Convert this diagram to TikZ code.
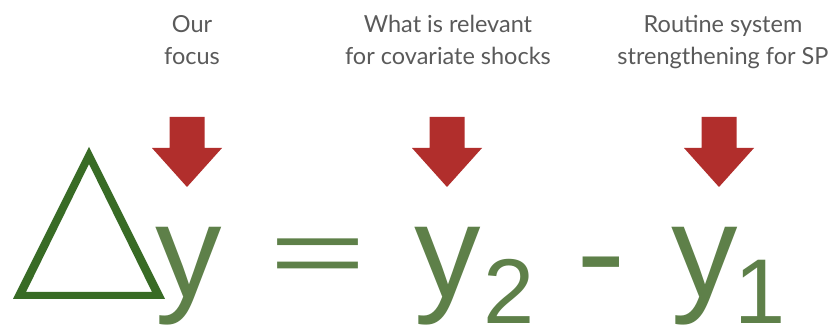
\documentclass[tikz,border=0pt]{standalone}
\usepackage{fontspec}
\usetikzlibrary{calc}
\setmainfont{Lato}
\newfontfamily\eqfont{Liberation Sans}
\definecolor{arrowred}{HTML}{B12E2C}
\definecolor{deltagreen}{HTML}{386B25}
\definecolor{eqgreen}{HTML}{5E8049}
\definecolor{labelgray}{HTML}{5A5A5A}
\begin{document}
\begin{tikzpicture}[x=1pt,y=-1pt,
  lbl/.style={font=\fontsize{23.5}{32}\selectfont, text=labelgray, align=center, inner sep=0pt, anchor=base},
  eqmain/.style={font=\eqfont\fontsize{133}{133}\selectfont, text=eqgreen, inner sep=0pt, anchor=base},
  eqsub/.style={font=\eqfont\fontsize{92}{92}\selectfont, text=eqgreen, inner sep=0pt, anchor=base},
  redarrow/.style={fill=arrowred}]
\useasboundingbox[fill=white] (0,0) rectangle (836,336);
% labels
\node[lbl] (l1) at (192,65) {Our\\focus};
\node[lbl] (l2) at (448,65) {What is relevant\\for covariate shocks};
\node[lbl] (l3) at (723,65) {Routine system\\strengthening for SP};
% arrows
\foreach \c/\n in {187/a1,447/a2,719/a3}{
  \coordinate (\n) at (\c,117);
  \fill[redarrow] ($(\n)+(-17.5,0)$) -- ($(\n)+(17.5,0)$) -- ($(\n)+(17.5,31)$) -- ($(\n)+(35,31)$)
     -- ($(\n)+(0,70)$) -- ($(\n)+(-35,31)$) -- ($(\n)+(-17.5,31)$) -- cycle;
}
% delta
\fill[deltagreen, even odd rule] (13,299) -- (89,147) -- (165,299) -- cycle
   (26,292) -- (152,292) -- (89,164) -- cycle;
% equation
\node[eqmain] (ya) at (188.5,298) {y};
\node[eqmain, xscale=1.25, yscale=0.7] (eq) at (318.5,285) {=};
\node[eqmain] (yb) at (447.5,298) {y};
\node[eqsub] (s2) at (509.5,324) {2};
\node[eqmain, xscale=1.12] (mi) at (601.5,298) {-};
\node[eqmain] (yc) at (705,298) {y};
\node[eqsub] (s1) at (760,324) {1};
\end{tikzpicture}
\end{document}
